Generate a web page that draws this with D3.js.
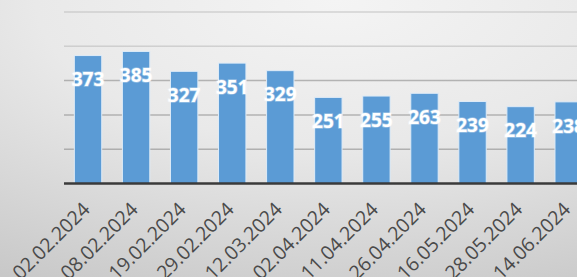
<!DOCTYPE html>
<html>
<head>
<meta charset="utf-8">
<script src="https://cdn.jsdelivr.net/npm/d3@7"></script>
<style>
  html, body { margin: 0; padding: 0; overflow: hidden; }
  svg { display: block; }
</style>
</head>
<body>
<div id="chart"></div>
<script>
// данные с графика
var dates = ['02.02.2024', '08.02.2024', '19.02.2024', '29.02.2024', '12.03.2024', '02.04.2024',
  '11.04.2024', '26.04.2024', '16.05.2024', '28.05.2024', '14.06.2024'];
var values = [373, 385, 327, 351, 329, 251, 255, 263, 239, 224, 238];
var yTicks = [100, 200, 300, 400, 500];

var width = 577,
  height = 277;

var svg = d3.select('#chart')
  .append('svg')
  .attr('width', width)
  .attr('height', height);

// фон с градиентом
var defs = svg.append('defs');
var grad = defs.append('radialGradient')
  .attr('id', 'bg')
  .attr('cx', '0.58')
  .attr('cy', '0')
  .attr('r', '1.15');
grad.append('stop').attr('offset', '0').attr('stop-color', '#f4f4f4');
grad.append('stop').attr('offset', '0.45').attr('stop-color', '#e9e9e9');
grad.append('stop').attr('offset', '1').attr('stop-color', '#c8c8c8');

svg.append('rect')
  .attr('width', width)
  .attr('height', height)
  .attr('fill', 'url(#bg)');

var x = d3.scaleBand()
  .domain(dates)
  .range([64, 592.7])
  .paddingInner(0.43)
  .paddingOuter(0.215);

var y = d3.scaleLinear()
  .domain([0, 500])
  .range([183.5, 12]);

// сетка
svg.append('g')
  .selectAll('line')
  .data(yTicks)
  .enter()
  .append('line')
  .attr('x1', 64)
  .attr('x2', width)
  .attr('y1', d => y(d))
  .attr('y2', d => y(d))
  .attr('stroke', d => d > 300 ? '#bdbdbd' : '#8c8c8c')
  .attr('stroke-opacity', 0.6)
  .attr('stroke-width', 1.5);

// столбцы
svg.selectAll('.bar')
  .data(values)
  .enter()
  .append('rect')
  .attr('class', 'bar')
  .attr('x', (d, i) => x(dates[i]))
  .attr('y', d => y(d))
  .attr('width', x.bandwidth())
  .attr('height', d => y(0) - y(d))
  .attr('fill', '#5b9bd5')
  .attr('stroke', '#deebf7')
  .attr('stroke-width', 1);

// ось X
var xAxis = svg.append('g')
  .attr('transform', 'translate(0,' + y(0) + ')')
  .call(d3.axisBottom(x).tickSize(0).tickPadding(0));
xAxis.select('.domain')
  .attr('stroke', '#3a3a3a')
  .attr('stroke-width', 2.5)
  .attr('d', 'M64,0H' + width);
xAxis.selectAll('text')
  .attr('font-family', 'Open Sans, sans-serif')
  .attr('font-size', 19.5)
  .attr('fill', '#4a4a4a')
  .attr('text-anchor', 'end')
  .attr('dy', 0)
  .attr('transform', 'translate(3,27) rotate(-45)');

// подписи значений
svg.selectAll('.label')
  .data(values)
  .enter()
  .append('text')
  .attr('class', 'label')
  .attr('x', (d, i) => x(dates[i]) + x.bandwidth() / 2)
  .attr('y', d => y(d) + 24)
  .attr('dy', '.35em')
  .attr('text-anchor', 'middle')
  .attr('font-family', 'Open Sans, sans-serif')
  .attr('font-weight', 'bold')
  .attr('font-size', 19)
  .attr('fill', '#ffffff')
  .style('paint-order', 'stroke')
  .attr('stroke', 'rgba(255,255,255,0.35)')
  .attr('stroke-width', 1.5)
  .text(d => d);
</script>
</body>
</html>
